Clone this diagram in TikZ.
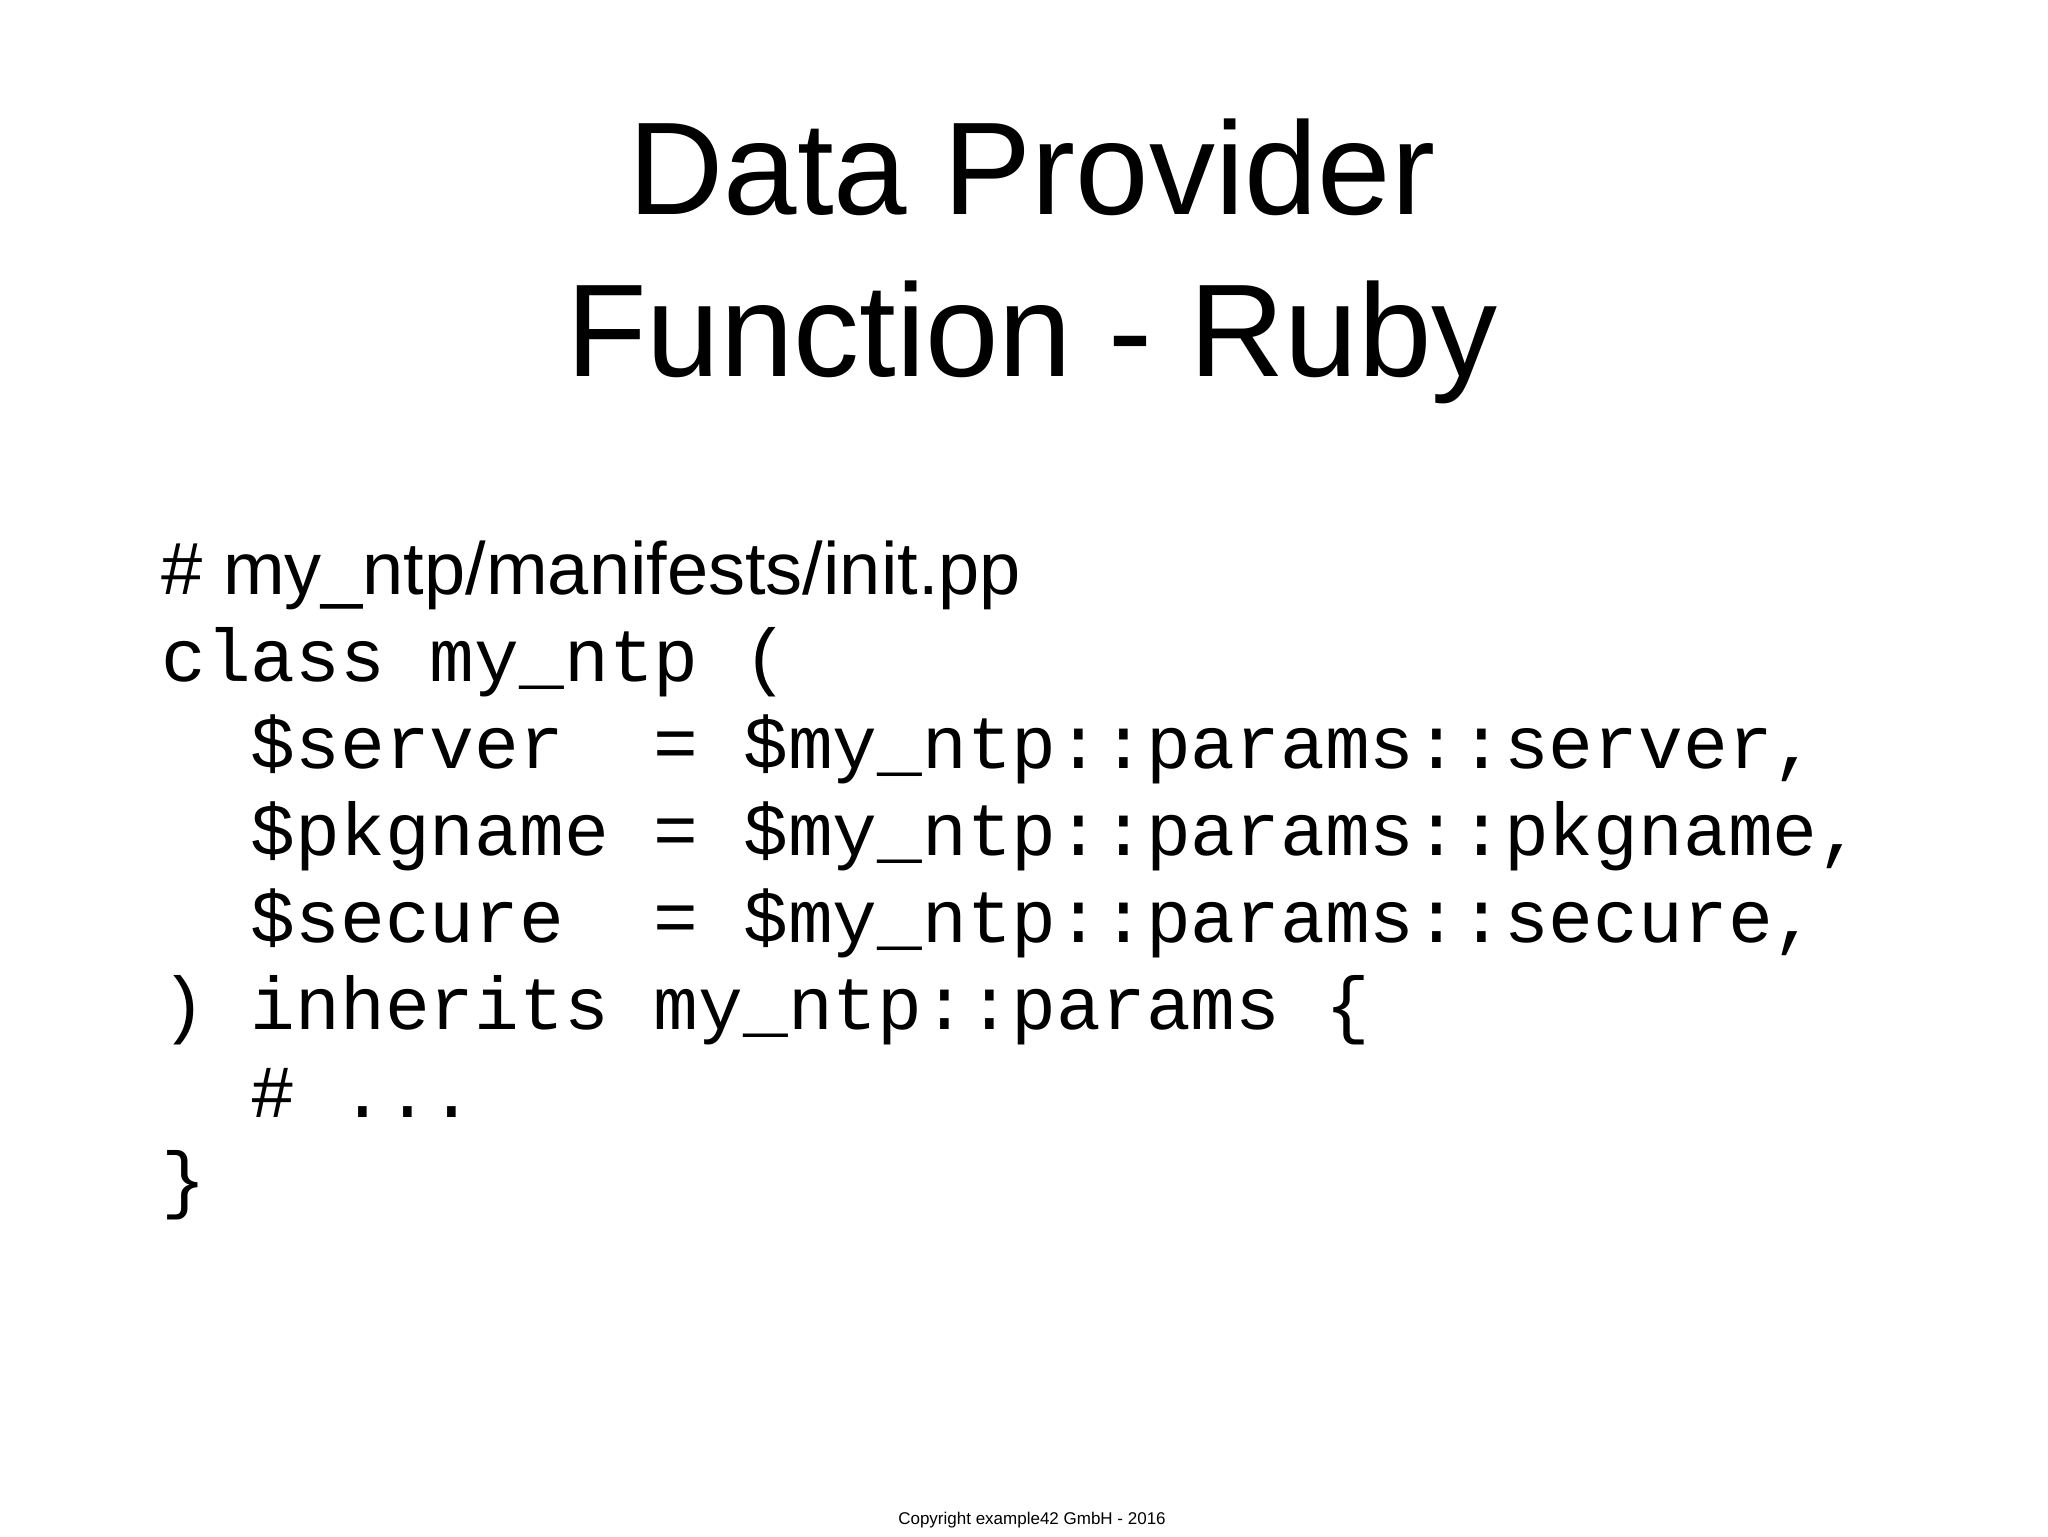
\documentclass[tikz,border=0pt]{standalone}
\usepackage{fontspec}
\setmainfont{Liberation Sans}
\newfontfamily\codefont{Liberation Mono}
\begin{document}
\begin{tikzpicture}[x=1pt,y=1pt,
  title/.style={anchor=base,font=\fontsize{66}{66}\selectfont,inner sep=0},
  code/.style={anchor=base west,font=\codefont\fontsize{37.3}{37.3}\selectfont,inner sep=0},
  cmt/.style={anchor=base west,font=\fontsize{37}{37}\selectfont,inner sep=0}]
\useasboundingbox[fill=white] (0,0) rectangle (1024,-768);
\node[title] (t1) at (516,-107) {Data Provider};
\node[title] (t2) at (516,-188) {Function - Ruby};
\node[cmt] (c0) at (80.5,-297) {\# my\_ntp/manifests/init.pp};
\node[code] (c1) at (80.5,-340.5) {class my\_ntp (};
\node[code] (c2) at (80.5,-384) {\phantom{xx}\$server\ \ = \$my\_ntp::params::server,};
\node[code] (c3) at (80.5,-427.7) {\phantom{xx}\$pkgname = \$my\_ntp::params::pkgname,};
\node[code] (c4) at (80.5,-471.3) {\phantom{xx}\$secure\ \ = \$my\_ntp::params::secure,};
\node[code] (c5) at (80.5,-514.9) {) inherits my\_ntp::params \{};
\node[code] (c6) at (80.5,-558.5) {\phantom{xx}\# ...};
\node[code] (c7) at (80.5,-602) {\}};
\node[anchor=base,font=\fontsize{8.5}{8.5}\selectfont,inner sep=0] (cp) at (516,-762) {Copyright example42 GmbH - 2016};
\end{tikzpicture}
\end{document}
